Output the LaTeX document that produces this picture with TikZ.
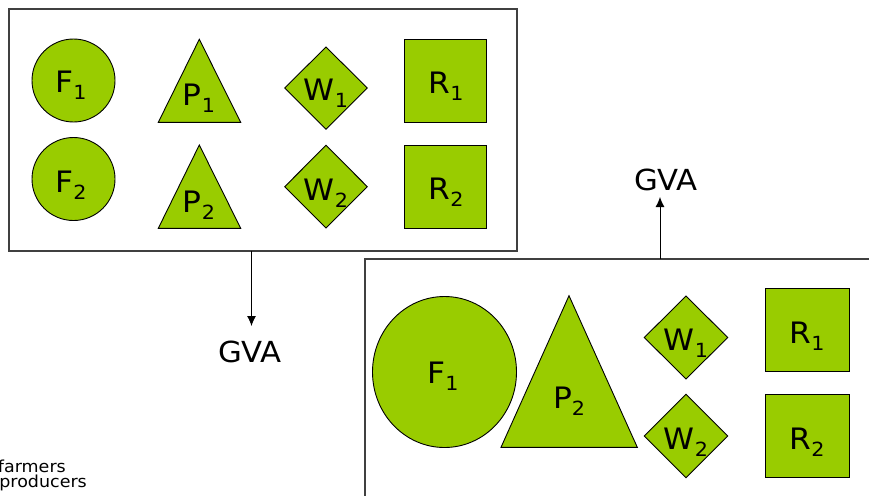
\documentclass[tikz,border=0pt]{standalone}
\usepackage{fontspec}
\setmainfont{DejaVu Sans}[FakeStretch=1.06]
\newcommand\shlbl[2]{#1\raisebox{-7.5pt}{\fontsize{19.5}{19.5}\selectfont #2}}
\definecolor{leaf}{HTML}{99CC00}
\definecolor{frame}{HTML}{404040}
\usetikzlibrary{arrows.meta}
\tikzset{
  shp/.style={fill=leaf,draw=black,line width=0.9pt},
  frm/.style={draw=frame,line width=1.4pt},
  lbl/.style={anchor=base,inner sep=0pt,font=\fontsize{29.5}{29.5}\selectfont},
  gva/.style={anchor=base,inner sep=0pt,font=\fontsize{29}{29}\selectfont},
  arr/.style={draw=black,line width=0.9pt,-{Latex[length=10pt,width=9pt]}},
  legend/.style={anchor=base east,inner sep=0pt,font=\fontsize{16.5}{16.5}\selectfont}
}
\begin{document}
\begin{tikzpicture}[x=1pt,y=-1pt]
\useasboundingbox (0,0) rectangle (869,495);
\fill[white] (0,0) rectangle (869,495);
\begin{scope}
\clip (0,0) rectangle (869,495);
% left frame
\draw[frm] (9,9) rectangle (517,251);
% right frame (open to the right and bottom)
\draw[frm] (365,500) -- (365,259) -- (875,259);

% left frame shapes
\draw[shp] (73.5,80.5) circle (41.5);
\draw[shp] (73.5,179) circle (41.5);
\draw[shp] (199.3,39.3) -- (240.7,122.3) -- (158.3,122.3) -- cycle;
\draw[shp] (199.3,145) -- (240.7,228.3) -- (158.3,228.3) -- cycle;
\draw[shp] (326,47) -- (367.3,88) -- (326,129.3) -- (284.7,88) -- cycle;
\draw[shp] (326,145.3) -- (367.3,186.7) -- (326,228) -- (284.7,186.7) -- cycle;
\draw[shp] (404.3,39.3) rectangle (486.7,122.7);
\draw[shp] (404.3,145) rectangle (486.7,228.3);

\node[lbl] (lf1) at (71,92) {\shlbl{F}{1}};
\node[lbl] (lf2) at (71,192) {\shlbl{F}{2}};
\node[lbl] (lp1) at (199,105) {\shlbl{P}{1}};
\node[lbl] (lp2) at (199,212) {\shlbl{P}{2}};
\node[lbl] (lw1) at (326,100) {\shlbl{W}{1}};
\node[lbl] (lw2) at (326,200) {\shlbl{W}{2}};
\node[lbl] (lr1) at (446,93) {\shlbl{R}{1}};
\node[lbl] (lr2) at (446,199) {\shlbl{R}{2}};

% right frame shapes
\draw[shp] (444.5,372) ellipse (72 and 75.5);
\draw[shp] (569,295.7) -- (637.3,447.3) -- (501,447.3) -- cycle;
\draw[shp] (686,296) -- (727.7,337.5) -- (686,379) -- (644.3,337.5) -- cycle;
\draw[shp] (686,394.3) -- (727.7,436) -- (686,477.7) -- (644.3,436) -- cycle;
\draw[shp] (765.3,288.3) rectangle (849,371.7);
\draw[shp] (765.3,394.3) rectangle (849,477.7);

\node[lbl] (rf1) at (443,383) {\shlbl{F}{1}};
\node[lbl] (rp2) at (569,408) {\shlbl{P}{2}};
\node[lbl] (rw1) at (686,350) {\shlbl{W}{1}};
\node[lbl] (rw2) at (686,449) {\shlbl{W}{2}};
\node[lbl] (rr1) at (807,343) {\shlbl{R}{1}};
\node[lbl] (rr2) at (807,449) {\shlbl{R}{2}};

% GVA connectors
\coordinate (lout) at (251.5,251);
\coordinate (ltip) at (251.5,326);
\node[gva] (gva1) at (250,362) {GVA};
\draw[arr] (lout) -- (ltip);

\coordinate (rout) at (660,259);
\coordinate (rtip) at (660,197);
\node[gva] (gva2) at (666,190) {GVA};
\draw[arr] (rout) -- (rtip);

% legend (cut off at left edge, as in the reference)
\node[legend] (leg1) at (66,472) {farmers};
\node[legend] (leg2) at (87,487) {producers};
\end{scope}
\end{tikzpicture}
\end{document}
